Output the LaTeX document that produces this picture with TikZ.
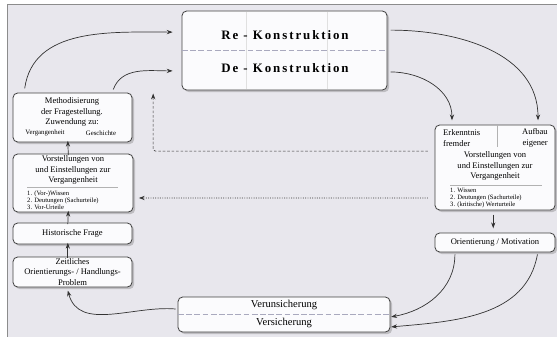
\documentclass[tikz,border=0pt]{standalone}
\usepackage{fontspec}
\setmainfont{Liberation Serif}
\usepackage{tikz}
\usetikzlibrary{positioning, arrows.meta, shadows}

\definecolor{panel}{HTML}{E8E7ED}
\definecolor{boxfill}{HTML}{FBFBFD}
\definecolor{sepcol}{HTML}{A9A9BE}

\begin{document}
\begin{tikzpicture}[x=0.03cm, y=-0.03cm,
  box/.style={draw=black!75, line width=0.7pt, fill=boxfill, rounded corners=4pt,
    inner sep=0pt, outer sep=0pt,
    drop shadow={opacity=0.4, shadow xshift=1.8pt, shadow yshift=-1.8pt}},
  txt/.style={inner sep=0pt, align=center, font=\fontsize{7.3}{8.8}\selectfont},
  tiny/.style={inner sep=0pt, align=left, font=\fontsize{5.6}{6}\selectfont},
  big/.style={inner sep=0pt, font=\fontsize{11}{12}\selectfont\bfseries\addfontfeature{LetterSpace=15}},
  flow/.style={draw=black!80, line width=0.6pt, -{Stealth[length=5pt,width=3.6pt]}},
  sep/.style={draw=sepcol, dashed, dash pattern=on 5pt off 2pt, line width=0.5pt}]

% panel
\useasboundingbox (0,0) rectangle (557,337);
\fill[white] (0,0) rectangle (557,337);
\fill[panel] (7,4) rectangle (557,337);
\draw[black!45, line width=0.8pt] (7,337) -- (7,4) -- (557,4);

% boxes
\node[box, minimum width=6.15cm, minimum height=2.37cm] (redebox) at (284.5,50.5) {};
\node[box, minimum width=3.57cm, minimum height=1.47cm] (methbox) at (72.5,117.5) {};
\node[box, minimum width=3.6cm, minimum height=1.74cm] (vorlbox) at (73,183) {};
\node[box, minimum width=3.57cm, minimum height=0.63cm] (histbox) at (72.5,233.5) {};
\node[box, minimum width=3.57cm, minimum height=0.9cm] (zeitbox) at (72.5,272) {};
\node[box, minimum width=3.6cm, minimum height=2.55cm] (erkbox) at (495,167.5) {};
\node[box, minimum width=3.6cm, minimum height=0.57cm] (orientbox) at (495,242.5) {};
\node[box, minimum width=6.36cm, minimum height=1.05cm] (versbox) at (284,314.5) {};

% Re-/De-Konstruktion
\draw[black!12, line width=0.4pt] (246,12) -- (246,89);
\draw[black!12, line width=0.4pt] (327,12) -- (327,89);
\draw[sep] (redebox.west) -- (redebox.east);
\node[big] (reText) at (285,35) {Re - Konstruktion};
\node[big] (deText) at (285,68) {De - Konstruktion};

% left column
\node[txt] (methText) at (72,112) {Methodisierung\\der Fragestellung.\\Zuwendung zu:};
\node[inner sep=0pt, font=\fontsize{5.8}{7}\selectfont] (vergText) at (45,133) {Vergangenheit};
\node[inner sep=0pt, font=\fontsize{5.8}{7}\selectfont] (geschText) at (101,133) {Geschichte};

\node[txt] (vorlText) at (73,170) {Vorstellungen von\\und Einstellungen zur\\Vergangenheit};
\draw[black!30, line width=0.4pt] (27,187) -- (118,187);
\node[tiny, anchor=west] (vorlList) at (27,200) {1. (Vor-)Wissen\\2. Deutungen (Sachurteile)\\3. Vor-Urteile};

\node[txt] (histText) at (72.5,233.5) {Historische Frage};
\node[txt] (zeitText) at (72.5,272) {Zeitliches\\Orientierungs- / Handlungs-\\Problem};

% right column
\draw[black!30, line width=0.4pt] (497,125) -- (497,147);
\node[txt, align=left, anchor=west] (erkText) at (443,138) {Erkenntnis\\fremder};
\node[txt, align=right, anchor=east] (aufText) at (548,138) {Aufbau\\eigener};
\node[txt] (vorrText) at (495,166) {Vorstellungen von\\und Einstellungen zur\\Vergangenheit};
\draw[black!30, line width=0.4pt] (450,185) -- (542,185);
\node[tiny, anchor=west] (vorrList) at (450,198) {1. Wissen\\2. Deutungen (Sachurteile)\\3. (kritische) Werturteile};

\node[txt] (orientText) at (495,242.5) {Orientierung / Motivation};

% bottom
\draw[sep] (versbox.west) -- (versbox.east);
\node[inner sep=0pt, font=\fontsize{9}{10}\selectfont] (verunText) at (284,305) {Verunsicherung};
\node[inner sep=0pt, font=\fontsize{9}{10}\selectfont] (versText) at (284,322.5) {Versicherung};

% connectors
\draw[flow] ([xshift=10pt,yshift=4pt]methbox.north west) to[out=82,in=180] ([xshift=-8pt,yshift=15.7pt]redebox.west);
\draw[flow] ([xshift=-16pt,yshift=3pt]methbox.north east) to[out=70,in=180] ([xshift=-8pt,yshift=-17.4pt]redebox.west);
\draw[flow] ([xshift=3pt,yshift=17.4pt]redebox.east) to[out=0,in=90] ([xshift=-14.5pt,yshift=4pt]erkbox.north east);
\draw[flow] ([xshift=3pt,yshift=-18.3pt]redebox.east) to[out=0,in=90] ([xshift=14.5pt,yshift=4pt]erkbox.north west);
\draw[flow, dash pattern=on 2.2pt off 1.6pt, line width=0.55pt, rounded corners=2pt] ([xshift=-6pt,yshift=14pt]erkbox.west) -| ([xshift=-24.6pt,yshift=-3pt]redebox.south west);
\draw[flow, dash pattern=on 0.8pt off 1.2pt, line width=0.55pt] ([xshift=-6pt,yshift=-26pt]erkbox.west) -- ([xshift=5pt,yshift=-12.8pt]vorlbox.east);
\draw[flow] ([xshift=-1.5pt,yshift=-4pt]erkbox.south) -- ([xshift=-1.5pt,yshift=4pt]orientbox.north);
\draw[flow] ([xshift=17pt,yshift=-2pt]orientbox.south west) to[out=-90,in=10] ([xshift=1pt,yshift=-2pt]versbox.east);
\draw[flow] ([xshift=-15pt,yshift=-2pt]orientbox.south east) to[out=-100,in=5] ([xshift=1pt,yshift=-10.6pt]versbox.east);
\draw[flow] ([xshift=-2pt,yshift=4.7pt]versbox.west) to[out=175,in=-75] ([xshift=-4pt,yshift=-3pt]zeitbox.south);
\draw[flow] ([xshift=-4pt,yshift=-1pt]zeitbox.north) -- ([xshift=-4pt,yshift=1pt]histbox.south);
\draw[flow] ([xshift=-4pt,yshift=-1pt]histbox.north) -- ([xshift=-4pt,yshift=1pt]vorlbox.south);
\draw[flow] ([xshift=-4pt,yshift=-1pt]vorlbox.north) -- ([xshift=-4pt,yshift=1pt]methbox.south);
\end{tikzpicture}
\end{document}
